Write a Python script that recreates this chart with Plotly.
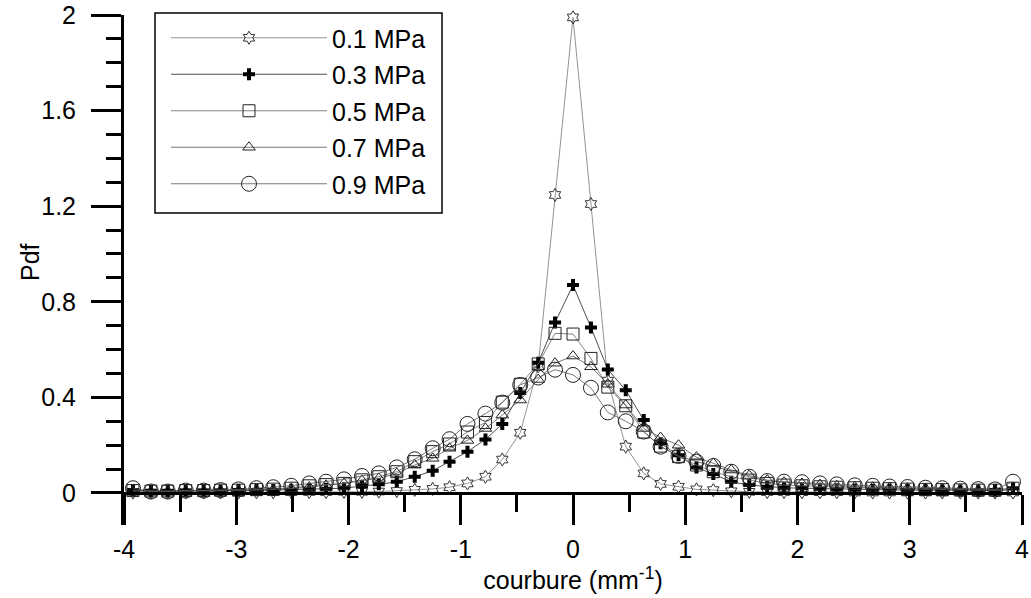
import plotly.graph_objects as go

# curvature bin centres (mm^-1)
curvature = [-3.92, -3.76, -3.61, -3.45, -3.29, -3.14, -2.98, -2.82, -2.67, -2.51,
             -2.35, -2.2, -2.04, -1.88, -1.73, -1.57, -1.41, -1.25, -1.1, -0.94,
             -0.78, -0.63, -0.47, -0.31, -0.16, 0.0, 0.16, 0.31, 0.47, 0.63,
             0.78, 0.94, 1.1, 1.25, 1.41, 1.57, 1.73, 1.88, 2.04, 2.2,
             2.35, 2.51, 2.67, 2.82, 2.98, 3.14, 3.29, 3.45, 3.61, 3.76, 3.92]

pdf_01 = [0.002, 0.002, 0.002, 0.002, 0.002, 0.002, 0.002, 0.003, 0.003, 0.003,
          0.004, 0.004, 0.005, 0.005, 0.006, 0.008, 0.013, 0.017, 0.024, 0.040,
          0.068, 0.140, 0.252, 0.530, 1.247, 1.990, 1.209, 0.470, 0.194, 0.082,
          0.038, 0.026, 0.015, 0.012, 0.007, 0.005, 0.004, 0.004, 0.003, 0.003,
          0.003, 0.002, 0.002, 0.002, 0.002, 0.002, 0.002, 0.002, 0.002, 0.002, 0.002]

pdf_03 = [0.012, 0.008, 0.008, 0.010, 0.010, 0.010, 0.012, 0.012, 0.012, 0.014,
          0.016, 0.018, 0.020, 0.029, 0.036, 0.047, 0.068, 0.093, 0.131, 0.173,
          0.224, 0.289, 0.418, 0.545, 0.713, 0.870, 0.692, 0.517, 0.430, 0.305,
          0.208, 0.158, 0.107, 0.079, 0.047, 0.033, 0.026, 0.022, 0.020, 0.018,
          0.016, 0.015, 0.014, 0.013, 0.012, 0.012, 0.011, 0.010, 0.010, 0.012, 0.020]

pdf_05 = [0.010, 0.008, 0.008, 0.010, 0.010, 0.012, 0.012, 0.014, 0.016, 0.020,
          0.030, 0.035, 0.040, 0.055, 0.068, 0.089, 0.131, 0.173, 0.205, 0.255,
          0.295, 0.380, 0.455, 0.540, 0.668, 0.665, 0.563, 0.443, 0.365, 0.255,
          0.196, 0.152, 0.117, 0.089, 0.068, 0.054, 0.040, 0.033, 0.030, 0.026,
          0.024, 0.022, 0.020, 0.018, 0.016, 0.015, 0.014, 0.013, 0.012, 0.012, 0.020]

pdf_07 = [0.008, 0.006, 0.006, 0.008, 0.008, 0.010, 0.010, 0.012, 0.014, 0.018,
          0.025, 0.032, 0.040, 0.052, 0.061, 0.082, 0.117, 0.145, 0.187, 0.220,
          0.270, 0.326, 0.389, 0.475, 0.543, 0.573, 0.528, 0.455, 0.368, 0.270,
          0.232, 0.200, 0.150, 0.124, 0.096, 0.073, 0.054, 0.045, 0.040, 0.035,
          0.030, 0.026, 0.024, 0.022, 0.020, 0.018, 0.016, 0.014, 0.012, 0.010, 0.010]

pdf_09 = [0.020, 0.006, 0.006, 0.010, 0.010, 0.012, 0.015, 0.020, 0.024, 0.030,
          0.040, 0.047, 0.057, 0.071, 0.082, 0.107, 0.141, 0.187, 0.225, 0.289,
          0.332, 0.378, 0.452, 0.483, 0.516, 0.494, 0.440, 0.337, 0.300, 0.257,
          0.194, 0.155, 0.131, 0.113, 0.089, 0.068, 0.050, 0.047, 0.045, 0.040,
          0.036, 0.032, 0.030, 0.027, 0.025, 0.022, 0.020, 0.018, 0.016, 0.015, 0.047]

series_names = ["0.1 MPa", "0.3 MPa", "0.5 MPa", "0.7 MPa", "0.9 MPa"]
series_values = [pdf_01, pdf_03, pdf_05, pdf_07, pdf_09]

x_tickvals = [-4, -3, -2, -1, 0, 1, 2, 3, 4]
x_ticktext = ["-4", "-3", "-2", "-1", "0", "1", "2", "3", "4"]
y_tickvals = [0, 0.4, 0.8, 1.2, 1.6, 2.0]
y_ticktext = ["0", "0.4", "0.8", "1.2", "1.6", "2"]

styles = [
    dict(symbol="hexagram-open", size=10, color="#333", line=dict(color="#333", width=1)),
    dict(symbol="cross", size=10, color="black", line=dict(color="black", width=0)),
    dict(symbol="square-open", size=12, color="#222", line=dict(color="#222", width=1)),
    dict(symbol="triangle-up-open", size=11, color="#222", line=dict(color="#222", width=1)),
    dict(symbol="circle-open", size=15, color="#222", line=dict(color="#222", width=1)),
]
line_colors = ["#777", "#222", "#666", "#555", "#555"]

fig = go.Figure()
for i, (name, vals) in enumerate(zip(series_names, series_values)):
    fig.add_trace(go.Scatter(
        x=curvature, y=vals, name=name, mode="lines+markers",
        line=dict(color=line_colors[i], width=0.8),
        marker=styles[i], legendgroup=f"g{i}", cliponaxis=False,
    ))

FONT = "Liberation Sans, Arial, sans-serif"
FS = 25
y_min = -0.134
L, R, T, B = 124, 9, 15, 73
PW = 1031 - L - R
PH = 598 - T - B

fig.update_layout(
    width=1031, height=598,
    margin=dict(l=L, r=R, t=T, b=B, autoexpand=False),
    paper_bgcolor="white", plot_bgcolor="white",
    font=dict(family=FONT, size=FS, color="black"),
    showlegend=True,
    legend=dict(
        x=(166 - L) / PW, y=1.0, xanchor="left", yanchor="top",
        bgcolor="rgba(0,0,0,0)", borderwidth=0,
        font=dict(family=FONT, size=FS, color="black"),
        itemwidth=156, tracegroupgap=1, traceorder="grouped",
    ),
    xaxis=dict(
        range=[-4, 4], anchor="free", position=(0 - y_min) / (2.0 - y_min),
        automargin=False,
        showline=True, linecolor="black", linewidth=3,
        ticks="outside", ticklen=30, tickwidth=3, tickcolor="black",
        tickmode="array", tickvals=x_tickvals, ticktext=x_ticktext,
        ticklabelstandoff=3,
        minor=dict(ticks="outside", tickmode="array",
                   tickvals=[-3.5, -2.5, -1.5, -0.5, 0.5, 1.5, 2.5, 3.5],
                   ticklen=17, tickwidth=3, tickcolor="black"),
        showgrid=False, zeroline=False,
        tickfont=dict(family=FONT, size=FS),
        title=dict(text="courbure (mm<sup>-1</sup>)", font=dict(family=FONT, size=FS), standoff=0),
    ),
    yaxis=dict(
        range=[y_min, 2.0], automargin=False,
        showline=True, linecolor="black", linewidth=3,
        ticks="outside", ticklen=30, tickwidth=3, tickcolor="black",
        tickmode="array", tickvals=y_tickvals, ticktext=y_ticktext,
        ticklabelstandoff=10,
        minor=dict(ticks="outside", tickmode="array",
                   tickvals=[0.1, 0.2, 0.3, 0.5, 0.6, 0.7, 0.9, 1.0, 1.1,
                             1.3, 1.4, 1.5, 1.7, 1.8, 1.9],
                   ticklen=15, tickwidth=3, tickcolor="black"),
        showgrid=False, zeroline=False,
        tickfont=dict(family=FONT, size=FS),
    ),
    annotations=[dict(text="Pdf", xref="paper", yref="paper",
                      x=(30 - L) / PW, y=(598 - B - 262) / PH,
                      xanchor="center", yanchor="middle", textangle=-90,
                      showarrow=False, font=dict(family=FONT, size=FS))],
    shapes=[dict(type="rect", xref="paper", yref="paper",
                 x0=(155 - L) / PW, x1=(442 - L) / PW,
                 y0=(598 - B - 213) / PH, y1=(598 - B - 13) / PH,
                 line=dict(color="black", width=1.5), fillcolor="rgba(0,0,0,0)")],
)

fig.write_html("out.html", config={"displayModeBar": False},
               post_script="document.body.style.margin='0';document.body.style.overflow='hidden';")
